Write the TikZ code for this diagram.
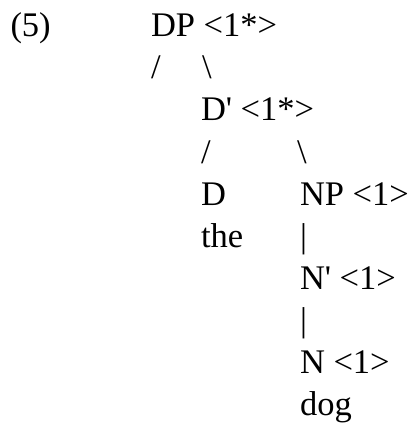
\documentclass[tikz,border=0pt]{standalone}
\usepackage{fontspec}
\newfontfamily\tnr{Liberation Serif}
\begin{document}
\begin{tikzpicture}[x=1pt,y=1pt,
  txt/.style={anchor=base west,inner sep=0pt,outer sep=0pt,font=\tnr\fontsize{34.5}{41}\selectfont}]
\useasboundingbox (0,0) rectangle (416,-425);
\def\ls{42}
\node[txt] (ex)   at (10.5,-37) {(5)};
\node[txt] (dp)   at (151,-37) {DP <1*>};
\node[txt] (s1)   at (151,{-37-\ls}) {/};
\node[txt] (b1)   at (202,{-37-\ls}) {\symbol{"5C}};
\node[txt] (dbar) at (201,{-37-2*\ls}) {D' <1*>};
\node[txt] (s2)   at (201,{-37-3*\ls}) {/};
\node[txt] (b2)   at (297,{-37-3*\ls}) {\symbol{"5C}};
\node[txt] (d)    at (201,{-37-4*\ls}) {D};
\node[txt] (np)   at (300,{-37-4*\ls}) {NP <1>};
\node[txt] (the)  at (201,{-37-5*\ls}) {the};
\node[txt] (v1)   at (300,{-37-5*\ls}) {|};
\node[txt] (nbar) at (300,{-37-6*\ls}) {N' <1>};
\node[txt] (v2)   at (300,{-37-7*\ls}) {|};
\node[txt] (n)    at (300,{-37-8*\ls}) {N <1>};
\node[txt] (dog)  at (300,{-37-9*\ls}) {dog};
\end{tikzpicture}
\end{document}
